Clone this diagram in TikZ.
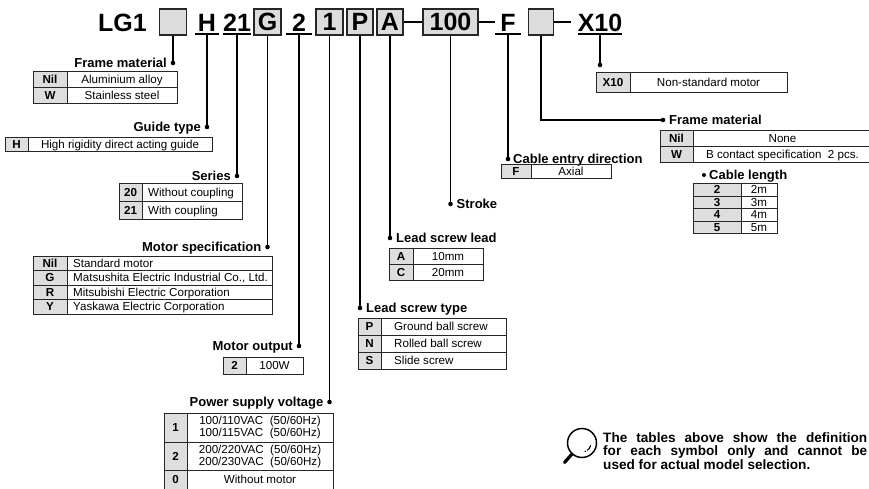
\documentclass[tikz,border=0pt]{standalone}
\usepackage{fontspec}
\setmainfont{Liberation Sans}
\definecolor{keygray}{RGB}{222,222,222}
\definecolor{hdrgray}{RGB}{220,220,220}
\tikzset{
  tline/.style={draw=black!85, line width=0.9pt},
  conn/.style={draw=black, line width=1.3pt},
  uline/.style={draw=black, line width=1.4pt},
  keytxt/.style={font=\fontsize{11.6}{12}\selectfont\bfseries, inner sep=0pt, text height=8.3pt, text depth=0pt},
  valtxt/.style={font=\fontsize{11.6}{12}\selectfont, inner sep=0pt, text height=8.3pt, text depth=0pt},
  valtwo/.style={font=\fontsize{11.6}{12}\selectfont, inner sep=0pt, align=center},
  lab/.style={font=\fontsize{13}{13}\selectfont\bfseries, inner sep=0pt, text height=9.4pt, text depth=0pt},
  hbox/.style={draw=black!85, line width=1.1pt, fill=hdrgray, minimum height=26pt, inner sep=0pt, font=\fontsize{25}{25}\selectfont\bfseries, text height=18pt, text depth=0pt},
  hul/.style={inner sep=0pt, font=\fontsize{25}{25}\selectfont\bfseries, text height=18pt, text depth=2pt, anchor=base},
  dot/.style={circle, fill=black, inner sep=0pt, minimum size=4.6pt},
}
\newcommand\crow[8]{%
  \fill[keygray] (#2,#5) rectangle (#3,#6);
  \draw[tline] (#2,#5) rectangle (#4,#6) (#3,#5) -- (#3,#6);
  \node[keytxt] (#1k) at ({(#2+#3)/2},{(#5+#6)/2}) {#7};
  \node[valtxt] (#1v) at ({(#3+#4)/2},{(#5+#6)/2}) {#8};
}
\newcommand\lrow[8]{%
  \fill[keygray] (#2,#5) rectangle (#3,#6);
  \draw[tline] (#2,#5) rectangle (#4,#6) (#3,#5) -- (#3,#6);
  \node[keytxt] (#1k) at ({(#2+#3)/2},{(#5+#6)/2}) {#7};
  \node[valtxt, anchor=west] (#1v) at ({#3+6},{(#5+#6)/2}) {#8};
}
\begin{document}
\begin{tikzpicture}[x=1pt, y=-1pt]
\useasboundingbox (0,0) rectangle (869,489);
\fill[white] (0,0) rectangle (869,489);

% ---------- header ----------
\node[hul, anchor=base east] (lg) at (147,32) {LG1};
\node[hbox, minimum width=27pt] (b1) at (173,22) {};
\node[hul, minimum width=24pt] (nH) at (207,32) {H};
\node[hul, minimum width=26pt] (n21) at (237,32) {21};
\node[hbox, minimum width=27pt] (bG) at (267.5,22) {G};
\node[hul, minimum width=26pt] (n2) at (299,32) {2};
\node[hbox, minimum width=27pt] (bOne) at (329.5,22) {1};
\node[hbox, minimum width=26pt] (bP) at (360,22) {P};
\node[hbox, minimum width=26pt] (bA) at (390,22) {A};
\node[hbox, minimum width=55pt] (b100) at (450.5,22) {100};
\node[hul, minimum width=25pt] (nF) at (508,32) {F};
\node[hbox, minimum width=25pt] (b2) at (541,22) {};
\node[hul, minimum width=42pt] (nX) at (600,32) {X10};
\foreach \n in {nH,n21,n2,nF,nX}{\draw[uline] (\n.south west) -- (\n.south east);}
\draw[conn] (bA.east) -- (b100.west);
\draw[conn] (b100.east) -- (b100.east -| nF.west);
\draw[conn] (b2.east) -- ([xshift=-7pt]b2.east -| nX.west);

% ---------- dots ----------
\node[dot] (d1) at (173,63) {};
\node[dot] (d2) at (207,127) {};
\node[dot] (d3) at (237,176) {};
\node[dot] (d4) at (267.5,247) {};
\node[dot] (d5) at (299,346) {};
\node[dot] (d6) at (329.5,402) {};
\node[dot] (d7) at (360,308) {};
\node[dot] (d8) at (390,238) {};
\node[dot] (d9) at (450.5,204) {};
\node[dot] (d10) at (508,159) {};
\node[dot] (d11) at (663,120) {};
\node[dot] (d12) at (600,65) {};
\node[dot, minimum size=4pt] (d13) at (704,175) {};

% ---------- connectors ----------
\draw[conn] (b1.south) -- (d1.center);
\draw[conn] (nH.south) -- (d2.center);
\draw[conn] (n21.south) -- (d3.center);
\draw[conn] (bG.south) -- (d4.center);
\draw[conn] (n2.south) -- (d5.center);
\draw[conn] (bOne.south) -- (d6.center);
\draw[conn] (bP.south) -- (d7.center);
\draw[conn] (bA.south) -- (d8.center);
\draw[conn] (b100.south) -- (d9.center);
\draw[conn] (nF.south) -- (d10.center);
\draw[conn] (b2.south) |- (d11.center);
\draw[conn] (nX.south) -- (d12.center);

% ---------- labels ----------
\node[lab, anchor=east] (l1) at (167,63) {Frame material};
\node[lab, anchor=east] (l2) at (201,127) {Guide type};
\node[lab, anchor=east] (l3) at (231,176) {Series};
\node[lab, anchor=east] (l4) at (261.5,247) {Motor specification};
\node[lab, anchor=east] (l5) at (293,346) {Motor output};
\node[lab, anchor=east] (l6) at (323.5,402) {Power supply voltage};
\node[lab, anchor=west] (l7) at (366,308) {Lead screw type};
\node[lab, anchor=west] (l8) at (396,238) {Lead screw lead};
\node[lab, anchor=west] (l9) at (456.5,204) {Stroke};
\node[lab, anchor=west] (l10) at (513,159) {Cable entry direction};
\node[lab, anchor=west] (l11) at (669,120) {Frame material};
\node[lab, anchor=west] (l13) at (709,175) {Cable length};

% ---------- tables ----------
% Frame material (left)
\crow{ta}{33}{67}{177}{71}{87}{Nil}{Aluminium alloy}
\crow{tb}{33}{67}{177}{87}{103}{W}{Stainless steel}
% Guide type
\crow{tc}{5}{28}{212}{137}{151}{H}{High rigidity direct acting guide}
% Series
\lrow{td}{119}{142}{242}{183}{201}{20}{Without coupling}
\lrow{te}{119}{142}{242}{201}{219}{21}{With coupling}
% Motor specification
\lrow{tf}{33}{67}{272}{256}{270.5}{Nil}{Standard motor}
\lrow{tg}{33}{67}{272}{270.5}{285}{G}{Matsushita Electric Industrial Co., Ltd.}
\lrow{th}{33}{67}{272}{285}{299.5}{R}{Mitsubishi Electric Corporation}
\lrow{ti}{33}{67}{272}{299.5}{314}{Y}{Yaskawa Electric Corporation}
% Motor output
\crow{tj}{223}{246}{303}{357}{374}{2}{100W}
% Power supply voltage
\crow{tk}{164}{187}{333}{413}{442}{1}{}
\node[valtwo] (tkv2) at (260,427.5) {100/110VAC~~(50/60Hz)\\100/115VAC~~(50/60Hz)};
\crow{tl}{164}{187}{333}{442}{470}{2}{}
\node[valtwo] (tlv2) at (260,456) {200/220VAC~~(50/60Hz)\\200/230VAC~~(50/60Hz)};
\crow{tm}{164}{187}{333}{470}{489}{0}{Without motor}
% Lead screw type
\lrow{tn}{358}{381}{506}{318}{335}{P}{\hspace{7pt}Ground ball screw}
\lrow{to}{358}{381}{506}{335}{352}{N}{\hspace{7pt}Rolled ball screw}
\lrow{tp}{358}{381}{506}{352}{369}{S}{\hspace{7pt}Slide screw}
% Lead screw lead
\crow{tq}{389}{413}{483}{248}{264}{A}{10mm}
\crow{tr}{389}{413}{483}{264}{280}{C}{20mm}
% Cable entry direction
\crow{ts}{501}{531}{611}{164}{178}{F}{Axial}
% X10
\crow{tt}{596}{630}{787}{72}{92}{X10}{Non-standard motor}
% Frame material (right)
\crow{tu}{660}{693}{872}{130}{146}{Nil}{None}
\crow{tv}{660}{693}{872}{146}{162}{W}{B contact specification~~2 pcs.}
% Cable length
\crow{tw}{693}{741}{777}{183}{196}{2}{2m}
\crow{tx}{693}{741}{777}{196}{208.5}{3}{3m}
\crow{ty}{693}{741}{777}{208.5}{221}{4}{4m}
\crow{tz}{693}{741}{777}{221}{233.5}{5}{5m}

% ---------- note ----------
\draw[line width=1.5pt] (582,443) circle[radius=14.5];
\draw[line width=3.2pt, line cap=round] (572,454) -- (564.5,462.5);
\draw[line width=1.1pt] ([shift={(15:9)}]582,443) arc[start angle=15, end angle=55, radius=9];
\node[circle, fill=black, inner sep=0pt, minimum size=1.8pt] (hl) at ([shift={(68:9)}]582,443) {};
\node[anchor=north west, inner sep=0pt, text width=264pt, align=justify,
      font=\fontsize{13.6}{13.5}\selectfont\bfseries] (note) at (603,432)
  {The tables above show the definition\linebreak for each symbol only and cannot be\linebreak used for actual model selection.};
\end{tikzpicture}
\end{document}
